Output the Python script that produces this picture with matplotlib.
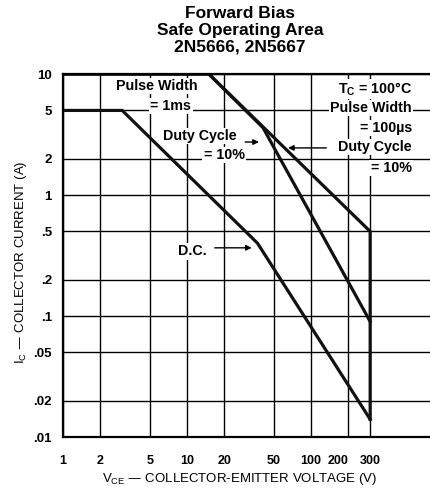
import matplotlib
matplotlib.use('Agg')
import matplotlib.pyplot as plt

# safe operating area boundaries
vce_dc = [1, 3, 37, 300, 300]
ic_dc = [5, 5, 0.4, 0.014, 0.014]
vce_1ms = [1, 15, 41, 300]
ic_1ms = [10, 10, 3.6, 0.09]
vce_100us = [1, 15, 300, 300]
ic_100us = [10, 10, 0.5, 0.014]

x_ticks = [1, 2, 5, 10, 20, 50, 100, 200, 300]
x_labels = ['1', '2', '5', '10', '20', '50', '100', '200', '300']
y_ticks = [0.01, 0.02, 0.05, 0.1, 0.2, 0.5, 1, 2, 5, 10]
y_labels = ['.01', '.02', '.05', '.1', '.2', '.5', '1', '2', '5', '10']

plt.rcParams['font.family'] = ['Liberation Sans', 'DejaVu Sans']
plt.rcParams['font.weight'] = 'bold'
plt.rcParams['mathtext.default'] = 'regular'

fig = plt.figure(figsize=(4.3, 4.9), dpi=100)
ax = fig.add_axes([63 / 430, 1 - 437 / 490, 1 - 63 / 430, (437 - 74) / 490])
ax.set_xscale('log')
ax.set_yscale('log')
ax.set_xlim(1, 10 ** ((430 - 63) / 124))
ax.set_ylim(0.01, 10)

ax.set_xticks(x_ticks, x_labels)
ax.set_yticks(y_ticks, y_labels)
ax.minorticks_off()
ax.tick_params(length=0, labelsize=9.5)
ax.tick_params(axis='x', pad=13, labelsize=9)
ax.tick_params(axis='y', pad=8)
# the two last labels sit close together, nudge them apart a bit
xl = ax.get_xticklabels()
xl[-2].set_horizontalalignment('right')
xl[-2].set_x(0)
ax.grid(True, color='black', lw=1.0)
ax.set_axisbelow(True)
for side in ['left', 'bottom', 'top']:
    ax.spines[side].set_linewidth(1.6)
ax.spines['right'].set_visible(False)

lw = 2.3
ax.plot(vce_dc, ic_dc, color='#111111', lw=lw, solid_joinstyle='miter')
ax.plot(vce_1ms, ic_1ms, color='#111111', lw=lw, solid_joinstyle='miter')
ax.plot(vce_100us, ic_100us, color='#111111', lw=lw, solid_joinstyle='miter')

box = dict(facecolor='white', edgecolor='none', pad=1.0)
fs = 10.3
ax.text(5.7, 7.96, 'Pulse Width', ha='center', va='center', fontsize=fs, bbox=box)
ax.text(7.4, 5.44, '= 1ms', ha='center', va='center', fontsize=fs, bbox=box)
ax.text(12.7, 3.07, 'Duty Cycle', ha='center', va='center', fontsize=fs, bbox=box)
ax.text(19.9, 2.14, '= 10%', ha='center', va='center', fontsize=fs, bbox=box)
ax.annotate('', xy=(40, 2.74), xytext=(28, 2.74),
            arrowprops=dict(arrowstyle='-|>', color='black', lw=1.0, mutation_scale=8))

xr = 650
ax.text(xr, 7.52, 'T$_C$ = 100°C', ha='right', va='center', fontsize=fs, bbox=box)
ax.text(xr, 5.24, 'Pulse Width', ha='right', va='center', fontsize=fs, bbox=box)
ax.text(xr, 3.58, '= 100µs', ha='right', va='center', fontsize=fs, bbox=box)
ax.text(xr, 2.49, 'Duty Cycle', ha='right', va='center', fontsize=fs, bbox=box)
ax.text(xr, 1.67, '= 10%', ha='right', va='center', fontsize=fs, bbox=box)
ax.annotate('', xy=(62, 2.45), xytext=(140, 2.45),
            arrowprops=dict(arrowstyle='-|>', color='black', lw=1.0, mutation_scale=8))

ax.text(11.0, 0.344, 'D.C.', ha='center', va='center', fontsize=fs, bbox=box)
ax.annotate('', xy=(35, 0.366), xytext=(15.9, 0.366),
            arrowprops=dict(arrowstyle='-|>', color='black', lw=1.0, mutation_scale=8))

ax.set_xlabel('V$_{CE}$ — COLLECTOR-EMITTER VOLTAGE (V)', fontsize=9.5)
ax.xaxis.set_label_coords((240 - 63) / (430 - 63), -(471 - 437) / (437 - 74))
ax.set_ylabel('I$_C$ — COLLECTOR CURRENT (A)', fontsize=9.5)
ax.yaxis.set_label_coords(-(63 - 29) / (430 - 63), (437 - 262) / (437 - 74))

fig.text(240 / 430, 1 - 30 / 490, 'Forward Bias\nSafe Operating Area\n2N5666, 2N5667',
         ha='center', va='center', fontsize=12.5, linespacing=1.15,
         family=['Liberation Sans Narrow', 'Liberation Sans', 'DejaVu Sans'])

fig.savefig('out.png', dpi=100)
